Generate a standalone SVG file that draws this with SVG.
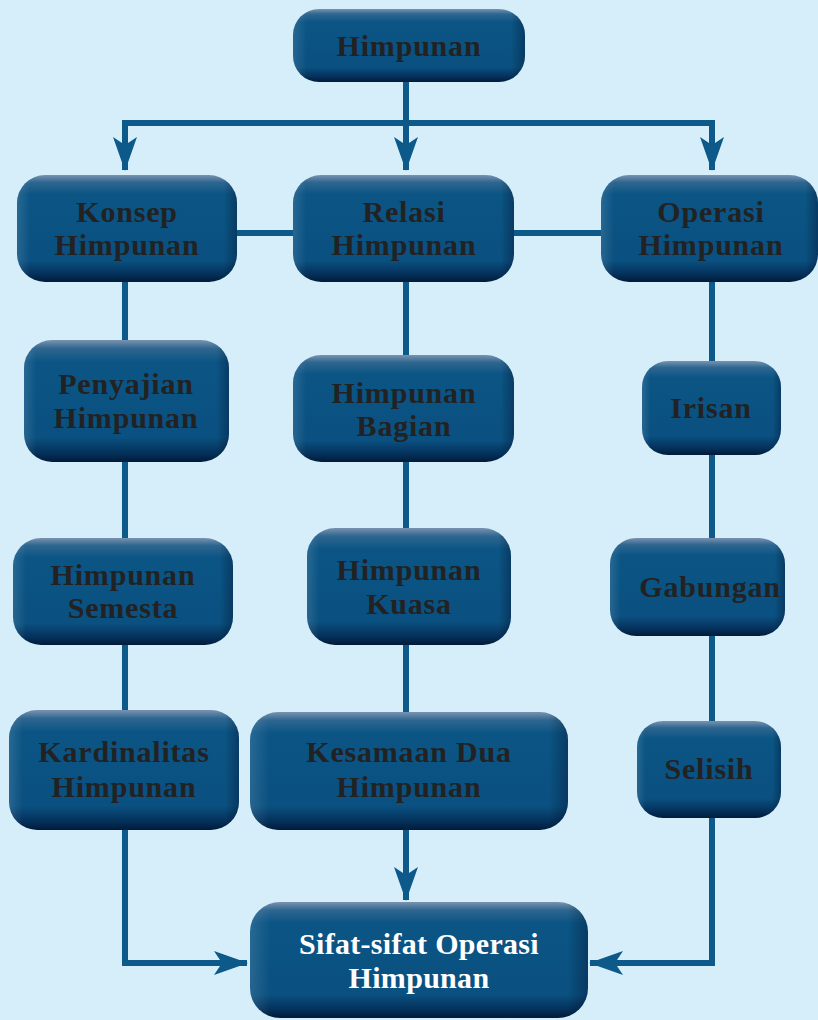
<svg xmlns="http://www.w3.org/2000/svg" width="818" height="1020" viewBox="0 0 818 1020">
<defs>
<linearGradient id="g" x1="0" y1="0" x2="0" y2="1">
<stop offset="0" stop-color="#7a93b0"/>
<stop offset="0.07" stop-color="#2e6690"/>
<stop offset="0.18" stop-color="#0b5585"/>
<stop offset="0.8" stop-color="#0a5080"/>
<stop offset="0.93" stop-color="#04305a"/>
<stop offset="1" stop-color="#021a38"/>
</linearGradient>
<linearGradient id="gh" x1="0" y1="0" x2="1" y2="0">
<stop offset="0" stop-color="#ffffff" stop-opacity="0.12"/>
<stop offset="0.06" stop-color="#ffffff" stop-opacity="0"/>
<stop offset="0.94" stop-color="#000000" stop-opacity="0"/>
<stop offset="1" stop-color="#000020" stop-opacity="0.3"/>
</linearGradient>
<marker id="arr" markerUnits="userSpaceOnUse" markerWidth="34" markerHeight="24" refX="33" refY="12" orient="auto">
<path d="M0,0 L34,12 L0,24 L8,12 z" fill="#0d5a8a"/>
</marker>
<style>
.n{fill:url(#g);}
.h{fill:url(#gh);}
.t{font-family:'Liberation Serif','Times New Roman',serif;font-weight:700;font-size:30px;letter-spacing:0.8px;fill:#222222;text-anchor:middle;}
.w{fill:#ffffff;letter-spacing:0.3px;}
.c{fill:none;stroke:#0d5a8a;stroke-width:6;}
</style>
</defs>
<rect width="818" height="1020" fill="#d6eefa"/>
<g id="connectors">
<path class="c" d="M125,123 H712"/>
<path class="c" d="M406,82 V170" marker-end="url(#arr)"/>
<path class="c" d="M125,120 V170" marker-end="url(#arr)"/>
<path class="c" d="M712,120 V170" marker-end="url(#arr)"/>
<path class="c" d="M237,233 H601"/>
<path class="c" d="M125,282 V963 H247" marker-end="url(#arr)"/>
<path class="c" d="M712,282 V963 H590" marker-end="url(#arr)"/>
<path class="c" d="M406,282 V900" marker-end="url(#arr)"/>
</g>
<g font-family="Liberation Serif">
<g id="himpunan"><rect class="n" x="293" y="9" width="232" height="73" rx="26"/><rect class="h" x="293" y="9" width="232" height="73" rx="26"/><text class="t" x="409" y="56">Himpunan</text></g>
<g id="konsep"><rect class="n" x="17" y="175" width="220" height="107" rx="28"/><rect class="h" x="17" y="175" width="220" height="107" rx="28"/><text class="t" x="127" y="222">Konsep</text><text class="t" x="127" y="255">Himpunan</text></g>
<g id="relasi"><rect class="n" x="293" y="175" width="221" height="107" rx="28"/><rect class="h" x="293" y="175" width="221" height="107" rx="28"/><text class="t" x="404" y="222">Relasi</text><text class="t" x="404" y="255">Himpunan</text></g>
<g id="operasi"><rect class="n" x="601" y="175" width="217" height="107" rx="28"/><rect class="h" x="601" y="175" width="217" height="107" rx="28"/><text class="t" x="711" y="222">Operasi</text><text class="t" x="711" y="255">Himpunan</text></g>
<g id="penyajian"><rect class="n" x="24" y="340" width="205" height="122" rx="28"/><rect class="h" x="24" y="340" width="205" height="122" rx="28"/><text class="t" x="126" y="394">Penyajian</text><text class="t" x="126" y="428">Himpunan</text></g>
<g id="semesta"><rect class="n" x="13" y="538" width="220" height="107" rx="28"/><rect class="h" x="13" y="538" width="220" height="107" rx="28"/><text class="t" x="123" y="585">Himpunan</text><text class="t" x="123" y="618">Semesta</text></g>
<g id="kardinalitas"><rect class="n" x="9" y="710" width="230" height="120" rx="28"/><rect class="h" x="9" y="710" width="230" height="120" rx="28"/><text class="t" x="124" y="762">Kardinalitas</text><text class="t" x="124" y="797">Himpunan</text></g>
<g id="bagian"><rect class="n" x="293" y="355" width="221" height="107" rx="28"/><rect class="h" x="293" y="355" width="221" height="107" rx="28"/><text class="t" x="404" y="403">Himpunan</text><text class="t" x="404" y="436">Bagian</text></g>
<g id="kuasa"><rect class="n" x="307" y="528" width="204" height="117" rx="28"/><rect class="h" x="307" y="528" width="204" height="117" rx="28"/><text class="t" x="409" y="580">Himpunan</text><text class="t" x="409" y="614">Kuasa</text></g>
<g id="kesamaan"><rect class="n" x="250" y="712" width="318" height="118" rx="28"/><rect class="h" x="250" y="712" width="318" height="118" rx="28"/><text class="t" x="409" y="762">Kesamaan Dua</text><text class="t" x="409" y="797">Himpunan</text></g>
<g id="irisan"><rect class="n" x="642" y="361" width="139" height="94" rx="26"/><rect class="h" x="642" y="361" width="139" height="94" rx="26"/><text class="t" x="711" y="418">Irisan</text></g>
<g id="gabungan"><rect class="n" x="610" y="538" width="175" height="98" rx="26"/><rect class="h" x="610" y="538" width="175" height="98" rx="26"/><text class="t" x="710" y="597">Gabungan</text></g>
<g id="selisih"><rect class="n" x="637" y="721" width="144" height="97" rx="26"/><rect class="h" x="637" y="721" width="144" height="97" rx="26"/><text class="t" x="709" y="779">Selisih</text></g>
<g id="sifat"><rect class="n" x="250" y="902" width="338" height="116" rx="30"/><rect class="h" x="250" y="902" width="338" height="116" rx="30"/><text class="t w" x="419" y="954">Sifat-sifat Operasi</text><text class="t w" x="419" y="988">Himpunan</text></g>
</g>
</svg>
